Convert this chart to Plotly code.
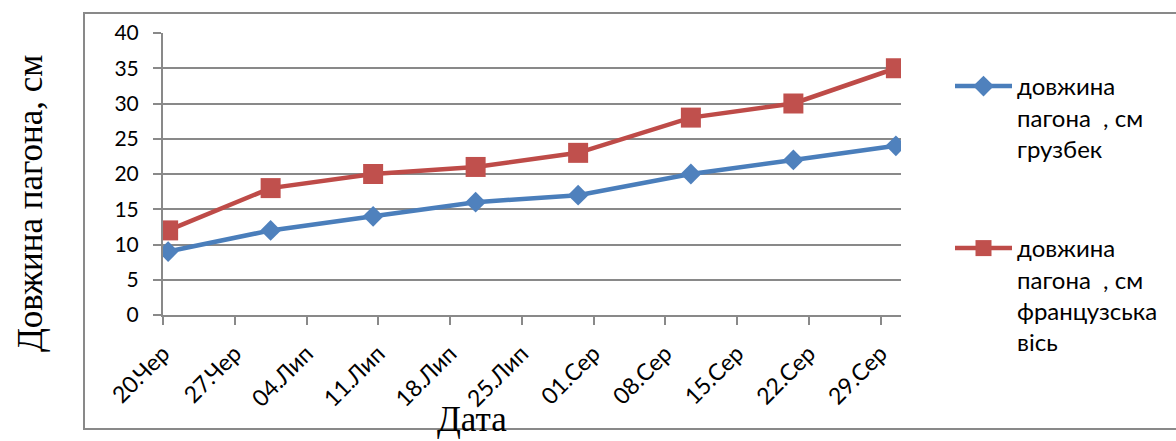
import plotly.graph_objects as go

# ---- data ----
dates = ["2013-06-20", "2013-06-30", "2013-07-10", "2013-07-20",
         "2013-07-30", "2013-08-10", "2013-08-20", "2013-08-30"]
gruzbek = [9, 12, 14, 16, 17, 20, 22, 24]
french_axis = [12, 18, 20, 21, 23, 28, 30, 35]
series_names = ["довжина<br>пагона\u00a0\u00a0, см<br>грузбек",
                "довжина<br>пагона\u00a0\u00a0, см<br>французська<br>вісь"]
tick_dates = ["2013-06-20", "2013-06-27", "2013-07-04", "2013-07-11",
              "2013-07-18", "2013-07-25", "2013-08-01", "2013-08-08",
              "2013-08-15", "2013-08-22", "2013-08-29"]
tick_labels = ["20.Чер", "27.Чер", "04.Лип", "11.Лип", "18.Лип", "25.Лип",
               "01.Сер", "08.Сер", "15.Сер", "22.Сер", "29.Сер"]
x_range = ["2013-06-20", "2013-08-31"]
y_title = "Довжина пагона, см"
x_title = "Дата"

# ---- layout geometry (pixels) ----
W, H = 1176, 441
ML, MR, MT, MB = 163, 275, 33, 126
PW, PH = W - ML - MR, H - MT - MB


def px(x):
    return (x - ML) / PW


def py(y):
    return (H - MB - y) / PH


SANS = "Lato, 'Open Sans', sans-serif"
SERIF = "'Liberation Serif', 'Times New Roman', serif"
GRID = "#898989"

fig = go.Figure()
fig.add_trace(go.Scatter(
    x=dates, y=gruzbek, name=series_names[0], mode="lines+markers",
    xperiod=86400000, xperiodalignment="middle",
    line=dict(color="#4A7EBB", width=4.5),
    marker=dict(symbol="diamond", size=16, color="#4F81BD", line=dict(width=0)),
    legend="legend",
))
fig.add_trace(go.Scatter(
    x=dates, y=french_axis, name=series_names[1], mode="lines+markers",
    xperiod=86400000, xperiodalignment="middle",
    line=dict(color="#BE4B48", width=4.5),
    marker=dict(symbol="square", size=20, color="#C0504D", line=dict(width=0)),
    legend="legend2",
))

fig.update_layout(
    width=W, height=H,
    margin=dict(l=ML, r=MR, t=MT, b=MB, pad=0),
    paper_bgcolor="white", plot_bgcolor="white",
    font=dict(family=SANS, size=20, color="black"),
    showlegend=True,
    legend=dict(x=px(950), y=py(64), xanchor="left", yanchor="top",
                font=dict(family=SANS, size=24, color="black"),
                valign="top", itemwidth=57, bgcolor="rgba(0,0,0,0)"),
    legend2=dict(x=px(950), y=py(226), xanchor="left", yanchor="top",
                 font=dict(family=SANS, size=24, color="black"),
                 valign="top", itemwidth=57, bgcolor="rgba(0,0,0,0)"),
    xaxis=dict(
        type="date", range=x_range,
        tickvals=tick_dates, ticktext=tick_labels, tickangle=-45,
        ticks="outside", ticklen=8, tickwidth=2, tickcolor=GRID,
        showline=True, linecolor=GRID, linewidth=2,
        showgrid=False, zeroline=False,
        ticklabelstandoff=6,
        tickfont=dict(family=SANS, size=23, color="black"),
    ),
    yaxis=dict(
        range=[0, 40], dtick=5, tick0=0,
        ticks="outside", ticklen=8, tickwidth=2, tickcolor=GRID,
        showline=True, linecolor=GRID, linewidth=2,
        showgrid=True, gridcolor=GRID, gridwidth=2,
        zeroline=False,
        ticklabelstandoff=10,
        tickfont=dict(family=SANS, size=21, color="black"),
    ),
    shapes=[dict(type="rect", xref="paper", yref="paper",
                 x0=px(84), x1=px(W + 10), y0=py(429), y1=py(13),
                 line=dict(color=GRID, width=2), layer="below")],
    annotations=[
        dict(text=y_title, xref="paper", yref="paper", x=px(30), y=py(203),
             xanchor="center", yanchor="middle", textangle=-90, showarrow=False,
             font=dict(family=SERIF, size=35, color="black")),
        dict(text=x_title, xref="paper", yref="paper", x=px(472), y=py(419),
             xanchor="center", yanchor="middle", showarrow=False,
             font=dict(family=SERIF, size=35, color="black")),
    ],
)

fig.write_html("out.html",
               config={"displayModeBar": False},
               post_script="document.body.style.margin='0';"
                           "document.body.style.overflow='hidden';")
